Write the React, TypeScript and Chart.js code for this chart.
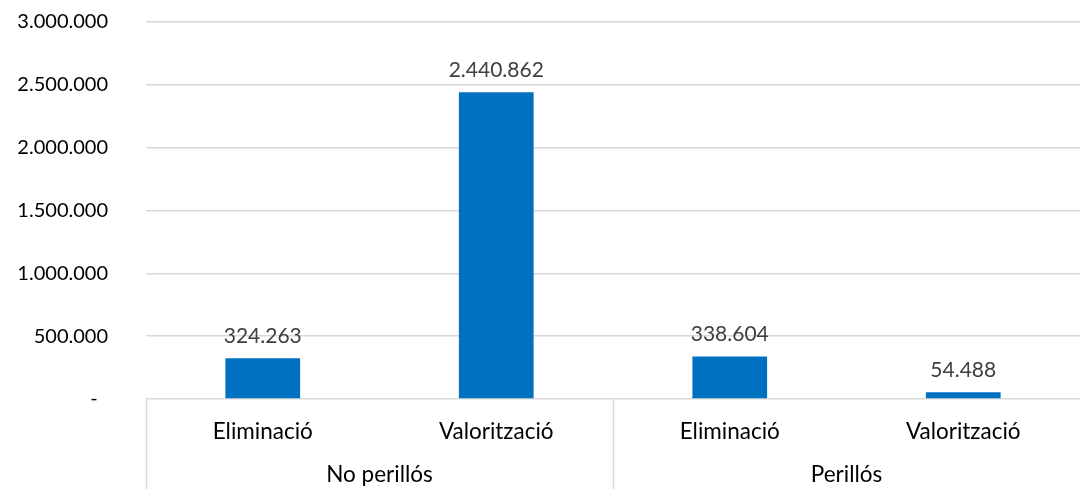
import React, { useEffect, useRef } from "react";
import { Chart, registerables } from "chart.js";

Chart.register(...registerables);

const categories = ["Eliminació", "Valorització", "Eliminació", "Valorització"];
const groups = ["No perillós", "Perillós"];
const groupSizes = [2, 2];
const values = [324263, 2440862, 338604, 54488];
const yTicks = [0, 500000, 1000000, 1500000, 2000000, 2500000, 3000000];

const FONT = "Lato, 'Open Sans', sans-serif";

const fmt = (n: number) =>
  Math.round(n).toString().replace(/\B(?=(\d{3})+(?!\d))/g, ".");

const groupPlugin = {
  id: "groupPlugin",
  afterDraw(chart: any) {
    const { ctx, chartArea, scales } = chart;
    const x = scales.x;
    const bottom = chartArea.bottom;
    const H = chart.height;
    ctx.save();
    ctx.strokeStyle = "#D9D9D9";
    ctx.lineWidth = 1.5;
    let idx = 0;
    const half = (x.getPixelForValue(1) - x.getPixelForValue(0)) / 2;
    const bounds: number[] = [x.getPixelForValue(0) - half];
    groupSizes.forEach((s) => {
      idx += s;
      bounds.push(x.getPixelForValue(idx - 1) + half);
    });
    bounds.forEach((bx) => {
      if (bx >= chart.width - 1) return;
      ctx.beginPath();
      ctx.moveTo(Math.round(bx) + 0.5, bottom);
      ctx.lineTo(Math.round(bx) + 0.5, H);
      ctx.stroke();
    });
    ctx.fillStyle = "#000000";
    ctx.font = `22.5px ${FONT}`;
    ctx.textAlign = "center";
    ctx.textBaseline = "middle";
    groups.forEach((g, i) => {
      const cx = (bounds[i] + bounds[i + 1]) / 2;
      ctx.fillText(g, cx, 475);
    });
    const meta = chart.getDatasetMeta(0);
    ctx.fillStyle = "#404040";
    ctx.font = `21px ${FONT}`;
    ctx.textBaseline = "alphabetic";
    meta.data.forEach((bar: any, i: number) => {
      ctx.fillText(fmt(values[i]), bar.x, bar.y - 15);
    });
    ctx.restore();
  },
};

export default function App() {
  const ref = useRef<HTMLCanvasElement>(null);
  useEffect(() => {
    if (!ref.current) return;
    const chart = new Chart(ref.current, {
      type: "bar",
      data: {
        labels: categories,
        datasets: [
          {
            data: values,
            backgroundColor: "#0070C0",
            barPercentage: 0.64,
            categoryPercentage: 0.5,
          },
        ],
      },
      options: {
        animation: false,
        responsive: false,
        maintainAspectRatio: false,
        layout: { padding: { top: 0, right: 0, left: 0, bottom: 0 } },
        plugins: {
          legend: { display: false },
          tooltip: { enabled: false },
        },
        scales: {
          x: {
            grid: { display: false, drawTicks: false },
            border: { display: false },
            ticks: {
              color: "#000000",
              font: { family: FONT, size: 22.5 },
              padding: 19,
              maxRotation: 0,
            },
            afterFit: (s: any) => {
              s.height = 90;
            },
          },
          y: {
            min: 0,
            max: 3000000,
            afterBuildTicks: (s: any) => {
              s.ticks = yTicks.map((v) => ({ value: v }));
            },
            grid: {
              color: "#D9D9D9",
              lineWidth: 1.5,
              drawTicks: false,
            },
            border: { display: false },
            ticks: {
              color: "#000000",
              font: { family: FONT, size: 20 },
              padding: 38,
              callback: (v: any) => (Number(v) === 0 ? "-  " : fmt(Number(v))),
            },
            afterFit: (s: any) => {
              s.width = 146;
              s.paddingTop = 22;
              s.paddingBottom = 12;
            },
          },
        },
      },
      plugins: [groupPlugin],
    });
    return () => chart.destroy();
  }, []);
  return (
    <div style={{ position: "absolute", left: 0, top: 0, width: 1080, height: 489, background: "#fff" }}>
      <canvas ref={ref} width={1080} height={489} style={{ display: "block" }} />
    </div>
  );
}
